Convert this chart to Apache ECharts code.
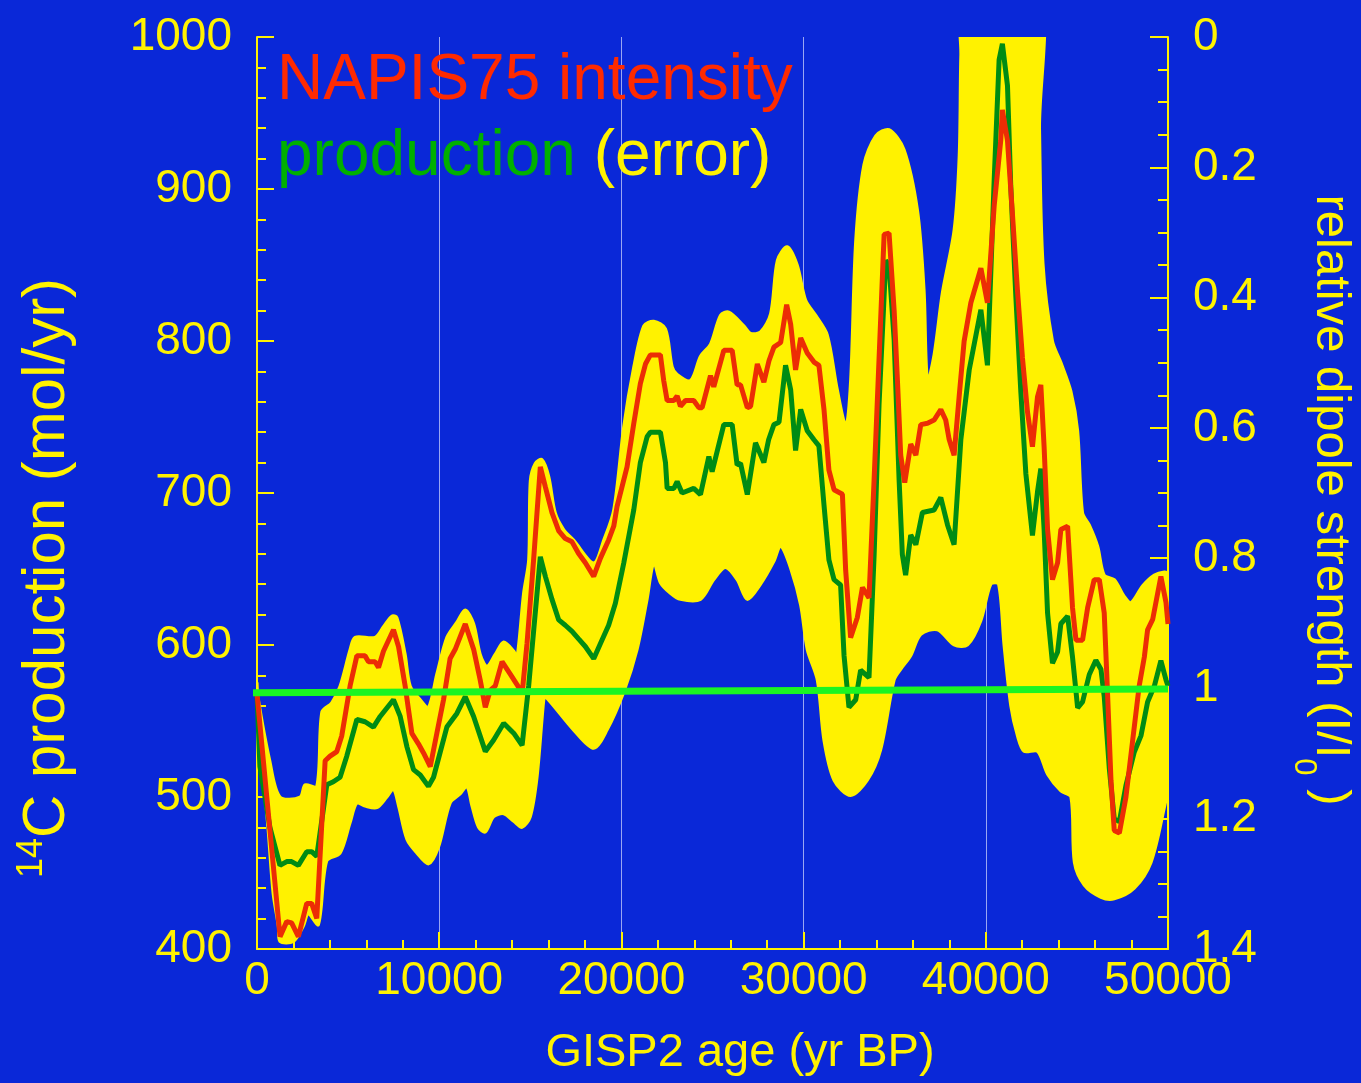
<!DOCTYPE html>
<html>
<head>
<meta charset="utf-8">
<title>14C production and NAPIS75 intensity</title>
<script src="https://cdn.jsdelivr.net/npm/echarts/dist/echarts.min.js"></script>
<style>
  html, body { margin: 0; padding: 0; background: #0a28d8; }
  #chart { width: 1361px; height: 1083px; }
</style>
</head>
<body>
<div id="chart"></div>
<script>
// Axis ticks
const ageTicks = [0, 10000, 20000, 30000, 40000, 50000];
const productionTicks = [400, 500, 600, 700, 800, 900, 1000];
const dipoleTicks = [0, 0.2, 0.4, 0.6, 0.8, 1, 1.2, 1.4];

// 14C production (mol/yr) vs GISP2 age (yr BP)
const production = [
  [0, 568], [160, 520], [710, 480], [1260, 455], [1630, 457.5], [1900, 457.5], [2270, 455],
  [2730, 464], [3000, 464], [3280, 461], [3830, 508], [4190, 510], [4560, 513], [4930, 527],
  [5480, 551], [5930, 549.5], [6390, 546], [6760, 553], [7490, 564], [7860, 553], [8230, 533],
  [8590, 518], [8960, 514.5], [9410, 507], [9690, 513], [10420, 546], [10970, 555], [11430, 566],
  [11890, 553], [12530, 530], [12990, 537.5], [13540, 548.5], [14090, 542], [14550, 534],
  [14910, 573], [15370, 634], [15550, 658], [15830, 645], [16190, 630], [16560, 616.5],
  [16920, 613], [17290, 609], [17650, 604], [18020, 599], [18480, 591], [18850, 601],
  [19300, 613], [19670, 627.5], [20130, 654], [20680, 689], [21040, 720], [21410, 737],
  [21590, 740], [22140, 740], [22420, 720], [22510, 703], [22880, 703], [23060, 707.5],
  [23330, 700], [23970, 703], [24340, 699], [24800, 724], [24980, 714], [25620, 745],
  [26080, 745], [26350, 718.5], [26540, 719.5], [26910, 699], [27360, 733], [27820, 720],
  [28080, 735], [28370, 745], [28650, 746.5], [29010, 784], [29290, 768], [29560, 728],
  [29840, 755], [30200, 741], [30570, 735], [30840, 731], [31120, 692], [31390, 656],
  [31670, 643], [32030, 639.5], [32220, 593], [32490, 559], [32860, 564], [33130, 583.5],
  [33590, 578.6], [33870, 659], [34140, 758], [34510, 853], [34690, 850], [34970, 800.7],
  [35240, 709], [35420, 659.5], [35600, 646], [35880, 672.4], [36160, 666], [36520, 687.2],
  [37160, 688.8], [37530, 697], [37900, 679], [38260, 666], [38630, 735], [39090, 781],
  [39730, 820.6], [40090, 784], [40460, 906], [40730, 985], [40910, 995.5], [41190, 968],
  [41370, 902], [41650, 829], [41920, 767], [42200, 712.5], [42560, 672], [42840, 701],
  [43020, 716], [43200, 676], [43390, 621], [43660, 588], [43940, 595.4], [44120, 614],
  [44490, 619], [44760, 592], [45040, 558.7], [45310, 562.5], [45680, 580.6], [46040, 590],
  [46320, 584], [46500, 566], [46780, 518.5], [47050, 485.6], [47330, 483.8], [47690, 507.5],
  [48150, 529.6], [48520, 540.4], [48880, 562.5], [49250, 573], [49610, 589.7], [49890, 577],
  [50000, 573]
];

// NAPIS75 relative dipole strength (I/I0)
const intensity = [
  [0, 1.008], [1264, 1.381], [1630, 1.358], [1900, 1.360], [2270, 1.381], [2730, 1.330],
  [3000, 1.330], [3280, 1.353], [3740, 1.111], [4010, 1.104], [4380, 1.097], [4650, 1.073],
  [5110, 0.996], [5480, 0.950], [5930, 0.950], [6120, 0.959], [6480, 0.959], [6670, 0.968],
  [6940, 0.943], [7490, 0.910], [7770, 0.936], [8130, 0.996], [8500, 1.069], [8860, 1.085],
  [9140, 1.099], [9510, 1.120], [9870, 1.069], [10240, 1.017], [10600, 0.954], [10880, 0.940],
  [11430, 0.901], [11890, 0.940], [12250, 0.987], [12530, 1.029], [12800, 1.003], [13080, 0.996],
  [13450, 0.959], [13900, 0.978], [14270, 0.994], [14550, 1.008], [14820, 0.931], [15180, 0.803],
  [15550, 0.660], [15830, 0.691], [16190, 0.730], [16560, 0.758], [16920, 0.770], [17290, 0.775],
  [17650, 0.793], [18020, 0.807], [18480, 0.828], [18850, 0.800], [19300, 0.772], [19580, 0.751],
  [19760, 0.721], [20310, 0.660], [20680, 0.593], [21040, 0.532], [21320, 0.502], [21590, 0.488],
  [22140, 0.488], [22320, 0.527], [22510, 0.558], [22880, 0.558], [23060, 0.551], [23240, 0.567],
  [23520, 0.558], [23970, 0.558], [24250, 0.569], [24430, 0.569], [24890, 0.520], [25070, 0.537],
  [25620, 0.481], [26080, 0.481], [26350, 0.534], [26540, 0.534], [26910, 0.569], [27090, 0.567],
  [27460, 0.502], [27820, 0.530], [28100, 0.497], [28370, 0.476], [28740, 0.469], [29070, 0.411],
  [29290, 0.441], [29560, 0.511], [29840, 0.462], [30200, 0.485], [30570, 0.499], [30840, 0.504],
  [31120, 0.572], [31390, 0.665], [31670, 0.695], [32130, 0.702], [32310, 0.819], [32580, 0.922],
  [32950, 0.891], [33230, 0.845], [33590, 0.861], [33870, 0.679], [34140, 0.495], [34420, 0.303],
  [34690, 0.301], [34970, 0.420], [35150, 0.527], [35330, 0.642], [35550, 0.684], [35880, 0.625],
  [36160, 0.642], [36430, 0.595], [36800, 0.593], [37160, 0.588], [37530, 0.572], [37800, 0.588],
  [37990, 0.618], [38260, 0.642], [38540, 0.551], [38810, 0.467], [39180, 0.408], [39730, 0.355],
  [40090, 0.408], [40460, 0.259], [40820, 0.159], [40910, 0.112], [41190, 0.159], [41460, 0.271],
  [41740, 0.390], [42010, 0.492], [42290, 0.576], [42560, 0.629], [42840, 0.552], [43020, 0.534],
  [43200, 0.629], [43390, 0.756], [43660, 0.833], [43940, 0.807], [44120, 0.756], [44490, 0.751],
  [44760, 0.876], [44950, 0.926], [45310, 0.926], [45590, 0.876], [45950, 0.833], [46230, 0.833],
  [46500, 0.884], [46690, 1.013], [46870, 1.141], [47050, 1.218], [47330, 1.222], [47690, 1.167],
  [48060, 1.080], [48420, 0.996], [48700, 0.952], [48880, 0.910], [49160, 0.894], [49610, 0.828],
  [49890, 0.868], [50000, 0.901]
];

// Outer edges of the production error envelope (mol/yr)
const errorUpper = [
  [0, 575], [50, 566], [700, 524], [1260, 500], [2360, 500], [2640, 508], [3280, 507],
  [3560, 556], [4100, 562], [4560, 573], [5110, 597], [5380, 605], [6480, 605], [6940, 612],
  [7400, 619], [7680, 618], [8130, 594], [8410, 573], [8960, 564], [9410, 559], [9870, 581],
  [10420, 605], [10970, 615], [11430, 623], [11890, 614], [12250, 594], [12620, 586],
  [13080, 594], [13540, 602], [14090, 596], [14270, 592], [14630, 634], [14910, 656],
  [15000, 708], [15270, 719.5], [15640, 722], [16010, 711], [16370, 687], [16830, 676],
  [17380, 669], [18480, 654], [19030, 669], [19580, 689], [20130, 744], [20680, 783],
  [21230, 810], [21780, 813], [22420, 808], [22790, 783], [23060, 778], [23790, 774],
  [24340, 790], [24890, 798], [25440, 817], [25900, 819], [26720, 810], [27090, 805],
  [27640, 806], [28190, 818], [28560, 853], [29100, 862], [29650, 850], [30110, 827],
  [30660, 817], [31300, 804], [31850, 768], [32310, 745], [32580, 774], [32860, 866],
  [33310, 916], [33960, 935], [34690, 939], [35510, 926], [36250, 886], [36610, 834],
  [36800, 774], [37160, 791], [37620, 832], [38260, 873], [38540, 922], [38630, 988],
  [38810, 1040], [42860, 1040], [42950, 939], [43140, 851], [43660, 800], [44120, 786],
  [44670, 767], [45040, 741], [45310, 687], [45680, 679], [46140, 665], [46500, 646],
  [47050, 643], [47600, 632], [47970, 628], [48610, 639], [49250, 646], [49800, 648],
  [50000, 647]
];
const errorLower = [
  [0, 560], [300, 520], [600, 480], [880, 437], [1170, 415], [1260, 405], [2000, 405],
  [2540, 415], [2820, 423], [3370, 416], [3830, 458], [4560, 463], [5110, 483], [5480, 496],
  [5930, 494], [6580, 493], [7130, 500], [7490, 505], [7770, 494], [8230, 472], [8780, 463],
  [9410, 456], [9960, 467], [10600, 496], [11150, 502], [11520, 507], [11800, 494],
  [12160, 480], [12530, 477], [12990, 487], [13540, 489], [14090, 484], [14550, 480],
  [15000, 487], [15370, 513], [15740, 564], [15830, 566], [17380, 544], [18480, 532],
  [19210, 544], [20130, 569], [20860, 597], [21410, 630], [21780, 654], [22140, 641],
  [22690, 634], [23240, 630], [24340, 630], [25070, 643], [25710, 651], [26350, 643],
  [26910, 630], [27640, 640], [28370, 655], [28740, 665], [29300, 650], [29840, 626],
  [30200, 597], [30750, 577], [31120, 537], [31670, 511], [32580, 501], [33500, 511],
  [34230, 531], [34970, 577], [35330, 584], [35880, 593], [36430, 607], [37350, 610],
  [38260, 600], [39000, 600], [39730, 616], [40280, 640], [40700, 640], [41000, 600],
  [41370, 560], [41740, 540], [42100, 530], [42840, 530], [43390, 515], [44120, 504],
  [44670, 500], [44860, 457], [45400, 442], [46320, 434], [47050, 433], [48150, 440],
  [49070, 457], [49800, 493], [50000, 507]
];

// Reference level of present-day production
const referenceLevel = [[-385, 568.6], [50000, 571]];

const BLUE = '#0a28d8';
const YELLOW = '#fff200';
const RED = '#ec2d05';
const GREEN = '#008c14';
const FONT = '"Liberation Sans", Arial, Helvetica, sans-serif';

const chart = echarts.init(document.getElementById('chart'), null, { renderer: 'canvas' });

function tickStep(ticks) { return ticks[1] - ticks[0]; }
function plain(v) { return String(Math.round(v * 1000) / 1000); }

const axisCommon = {
  axisLine: { show: true, onZero: false, lineStyle: { color: YELLOW, width: 2 } },
  axisTick: { show: true, inside: true, length: 17, lineStyle: { color: YELLOW, width: 2 } },
  splitLine: { show: false }
};

const option = {
  backgroundColor: BLUE,
  animation: false,
  grid: { left: 257, right: 193, top: 37, bottom: 134, containLabel: false },
  xAxis: Object.assign({}, axisCommon, {
    type: 'value',
    min: ageTicks[0],
    max: ageTicks[ageTicks.length - 1],
    interval: tickStep(ageTicks),
    minorTick: { show: true, splitNumber: 5, length: 9, lineStyle: { color: YELLOW, width: 2 } },
    axisLabel: { color: YELLOW, fontSize: 46, fontFamily: FONT, margin: 9, formatter: plain },
    splitLine: { show: true, lineStyle: { color: 'rgba(215,220,255,0.7)', width: 1 } }
  }),
  yAxis: [
    Object.assign({}, axisCommon, {
      type: 'value',
      position: 'left',
      min: productionTicks[0],
      max: productionTicks[productionTicks.length - 1],
      interval: tickStep(productionTicks),
      minorTick: { show: true, splitNumber: 5, length: 9, lineStyle: { color: YELLOW, width: 2 } },
      axisLabel: { color: YELLOW, fontSize: 46, fontFamily: FONT, margin: 25, padding: [0, 0, 14, 0], formatter: plain }
    }),
    Object.assign({}, axisCommon, {
      type: 'value',
      position: 'right',
      inverse: true,
      min: dipoleTicks[0],
      max: dipoleTicks[dipoleTicks.length - 1],
      interval: tickStep(dipoleTicks),
      axisTick: { show: true, inside: true, length: 18, lineStyle: { color: YELLOW, width: 2 } },
      minorTick: { show: true, splitNumber: 4, length: 10, lineStyle: { color: YELLOW, width: 2 } },
      axisLabel: { color: YELLOW, fontSize: 46, fontFamily: FONT, margin: 25, padding: [0, 0, 14, 0], formatter: plain }
    })
  ],
  graphic: [
    {
      type: 'text', left: 277, top: 49, z: 10,
      style: { text: 'NAPIS75 intensity', fill: '#ff2a00', fontSize: 64, fontFamily: FONT }
    },
    {
      type: 'text', left: 277, top: 125, z: 10,
      style: {
        text: '{g|production} {y|(error)}',
        fontSize: 64, fontFamily: FONT, fill: YELLOW,
        rich: {
          g: { fill: '#00b000', fontSize: 64, fontFamily: FONT },
          y: { fill: YELLOW, fontSize: 64, fontFamily: FONT }
        }
      }
    },
    {
      type: 'text', x: 740, y: 1053, z: 10,
      style: {
        text: 'GISP2 age (yr BP)', fill: YELLOW, fontSize: 47, fontFamily: FONT,
        align: 'center', verticalAlign: 'middle'
      }
    },
    {
      type: 'text', x: 47, y: 578, rotation: Math.PI / 2, z: 10,
      style: {
        text: '{sup|14}{m|C production (mol/yr)}', fill: YELLOW, fontSize: 60, fontFamily: FONT,
        align: 'center', verticalAlign: 'middle',
        rich: {
          sup: { fill: YELLOW, fontSize: 36, fontFamily: FONT, verticalAlign: 'top', lineHeight: 36 },
          m: { fill: YELLOW, fontSize: 60, fontFamily: FONT, lineHeight: 66 }
        }
      }
    },
    {
      type: 'text', x: 1331, y: 500, rotation: -Math.PI / 2, z: 10,
      style: {
        text: '{m|relative dipole strength (I/I}{sub|0}{m| )}', fill: YELLOW, fontSize: 49, fontFamily: FONT,
        align: 'center', verticalAlign: 'middle',
        rich: {
          m: { fill: YELLOW, fontSize: 49, fontFamily: FONT, lineHeight: 58 },
          sub: { fill: YELLOW, fontSize: 31, fontFamily: FONT, verticalAlign: 'bottom', lineHeight: 31, padding: [0, 0, -14, 0] }
        }
      }
    }
  ],
  series: [
    {
      name: 'error',
      type: 'custom',
      coordinateSystem: 'cartesian2d',
      xAxisIndex: 0, yAxisIndex: 0,
      clip: true,
      silent: true,
      data: [[25000, 700]],
      renderItem: function (params, api) {
        const pts = [];
        errorUpper.forEach(function (p) { pts.push(api.coord(p)); });
        for (let i = errorLower.length - 1; i >= 0; i--) pts.push(api.coord(errorLower[i]));
        return {
          type: 'polygon',
          shape: { points: pts, smooth: 0.3 },
          style: { fill: YELLOW, stroke: YELLOW, lineWidth: 3, lineJoin: 'round' }
        };
      },
      z: 2
    },
    {
      name: 'production',
      type: 'line', xAxisIndex: 0, yAxisIndex: 0,
      data: production, showSymbol: false, symbol: 'none', silent: true,
      lineStyle: { color: GREEN, width: 5 }, z: 3
    },
    {
      name: 'NAPIS75 intensity',
      type: 'line', xAxisIndex: 0, yAxisIndex: 1,
      data: intensity, showSymbol: false, symbol: 'none', silent: true,
      lineStyle: { color: RED, width: 5 }, z: 4
    },
    {
      name: 'reference',
      type: 'line', xAxisIndex: 0, yAxisIndex: 0,
      data: referenceLevel, showSymbol: false, symbol: 'none', silent: true, clip: false,
      lineStyle: { color: '#1af522', width: 7 }, z: 5
    }
  ]
};

chart.setOption(option);
</script>
</body>
</html>
